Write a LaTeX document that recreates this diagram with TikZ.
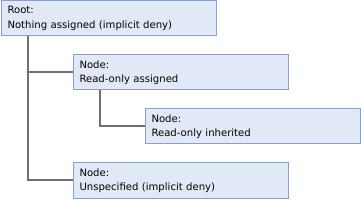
\documentclass[tikz,border=0pt]{standalone}
\usepackage{fontspec}
\setmainfont{DejaVu Sans}
\definecolor{boxfill}{RGB}{226,233,246}
\definecolor{boxline}{RGB}{135,160,212}
\definecolor{connline}{RGB}{112,112,112}
\begin{document}
\begin{tikzpicture}[x=1pt,y=-1pt,
  treebox/.style={draw=boxline, line width=1pt, fill=boxfill, anchor=north west,
    minimum width=215pt, minimum height=35pt, inner xsep=6.5pt, inner ysep=0pt,
    text width=202pt, align=left, font=\fontsize{10.1}{14.5}\selectfont},
  conn/.style={draw=connline, line width=2pt}]
\useasboundingbox (0,0) rectangle (361,200);
\node[treebox] (root) at (0.5,0.5) {Root:\\Nothing assigned (implicit deny)};
\node[treebox] (n2) at (72.5,54.5) {Node:\\Read-only assigned};
\node[treebox] (n3) at (144.5,108.5) {Node:\\Read-only inherited};
\node[treebox] (n4) at (72.5,162.5) {Node:\\Unspecified (implicit deny)};
\coordinate (rj) at ([xshift=27.5pt]root.south west);
\coordinate (nj) at ([xshift=27.5pt]n2.south west);
\draw[conn] (rj) |- (n4.west);
\draw[conn] (rj) |- (n2.west);
\draw[conn] (nj) |- (n3.west);
\end{tikzpicture}
\end{document}
